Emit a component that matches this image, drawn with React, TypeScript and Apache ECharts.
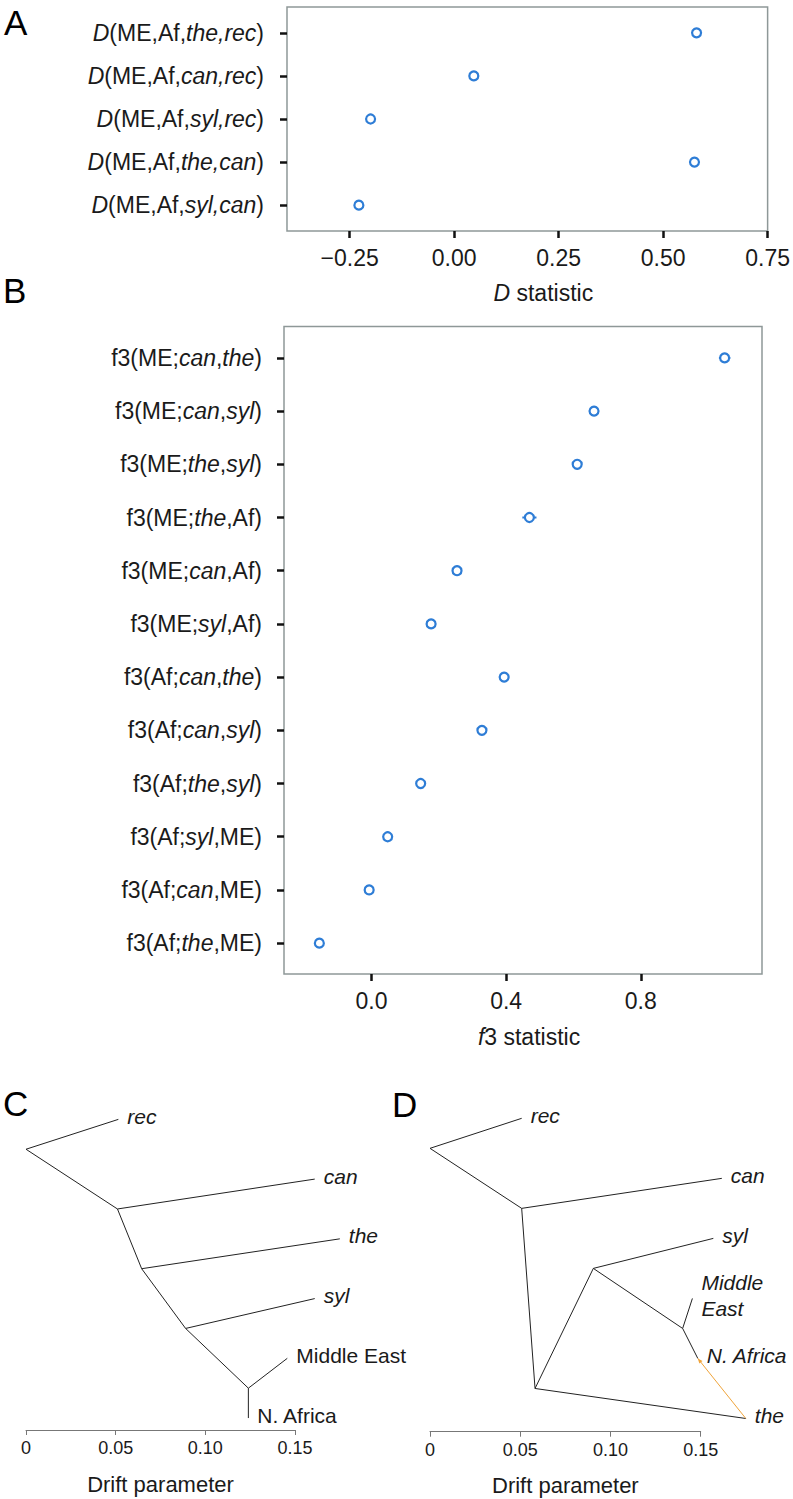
import React, { useEffect, useRef } from "react";
import * as echarts from "echarts";

// ---------- Panel A: D statistics ----------
const dPairs: string[][] = [
  ["the", "rec"],
  ["can", "rec"],
  ["syl", "rec"],
  ["the", "can"],
  ["syl", "can"],
];
const dValues = [0.58, 0.047, -0.2, 0.575, -0.228];
const dTicks = [-0.25, 0, 0.25, 0.5, 0.75];

// ---------- Panel B: f3 statistics ----------
const f3Targets = ["ME", "ME", "ME", "ME", "ME", "ME", "Af", "Af", "Af", "Af", "Af", "Af"];
const f3SourceA = ["can", "can", "the", "the", "can", "syl", "can", "can", "the", "syl", "can", "the"];
const f3SourceB = ["the", "syl", "syl", "Af", "Af", "Af", "the", "syl", "syl", "ME", "ME", "ME"];
const f3Values = [1.049, 0.661, 0.611, 0.469, 0.254, 0.177, 0.394, 0.328, 0.146, 0.048, -0.007, -0.155];
const f3Errors = [0.017, 0.008, 0.008, 0.021, 0.008, 0.008, 0.012, 0.008, 0.008, 0.008, 0.008, 0.008];
const f3Ticks = [0, 0.4, 0.8];

// ---------- Panel C: tree ----------
const nodeIdsC = ["root", "rec", "n1", "can", "n2", "the", "n3", "syl", "n4", "Middle East", "N. Africa"];
const nodeDriftC = [0, 0.0515, 0.051, 0.161, 0.0645, 0.175, 0.089, 0.161, 0.124, 0.1457, 0.124];
const nodePosC = [0.5, 0, 1.5, 1, 2.5, 2, 3.5, 3, 4.5, 4, 5];
const edgesC: string[][] = [
  ["root", "rec"], ["root", "n1"], ["n1", "can"], ["n1", "n2"], ["n2", "the"],
  ["n2", "n3"], ["n3", "syl"], ["n3", "n4"], ["n4", "Middle East"], ["n4", "N. Africa"],
];
const tipsC = ["rec", "can", "the", "syl", "Middle East", "N. Africa"];

// ---------- Panel D: tree with admixture ----------
const nodeIdsD = ["root", "rec", "n1", "can", "n2", "n3", "syl", "n4", "Middle East", "N. Africa", "the"];
const nodeDriftD = [0, 0.0508, 0.0508, 0.1617, 0.0582, 0.0905, 0.157, 0.14, 0.1454, 0.1484, 0.175];
const nodePosD = [0.5, 0, 1.5, 1, 4.5, 2.5, 2, 3.5, 3, 4, 5];
const edgesD: string[][] = [
  ["root", "rec"], ["root", "n1"], ["n1", "can"], ["n1", "n2"], ["n2", "n3"],
  ["n2", "the"], ["n3", "syl"], ["n3", "n4"], ["n4", "Middle East"], ["n4", "N. Africa"],
];
const admixD: string[][] = [["the", "N. Africa"]];
const tipsD = ["rec", "can", "syl", "Middle East", "N. Africa", "the"];

const FONT = '"Liberation Sans", Arial, Helvetica, sans-serif';
const TEXT = "#1a1a1a";
const FRAME = "#8e9898";
const BLUE = "#2e7dd6";
const ORANGE = "#f0a43a";
const TREE = "#222222";

const italicIfLower = (s: string) => (s === s.toLowerCase() ? `{i|${s}}` : s);

function edgeData(ids: string[], drift: number[], pos: number[], edges: string[][], kind: number) {
  return edges.map(([a, b]) => {
    const i = ids.indexOf(a);
    const j = ids.indexOf(b);
    return [drift[i], pos[i], drift[j], pos[j], kind];
  });
}

function tipData(ids: string[], drift: number[], pos: number[], tips: string[]) {
  return tips.map((t) => {
    const i = ids.indexOf(t);
    return { value: [drift[i], pos[i]], name: t };
  });
}

const edgeRender = (params: any, api: any) => {
  const a = api.coord([api.value(0), api.value(1)]);
  const b = api.coord([api.value(2), api.value(3)]);
  const admix = api.value(4) === 1;
  const children: any[] = [
    {
      type: "line",
      shape: { x1: a[0], y1: a[1], x2: b[0], y2: b[1] },
      style: { stroke: admix ? ORANGE : TREE, lineWidth: 1 },
    },
  ];
  if (admix) {
    const dx = b[0] - a[0];
    const dy = b[1] - a[1];
    const len = Math.sqrt(dx * dx + dy * dy) || 1;
    const ux = dx / len;
    const uy = dy / len;
    const nx = -uy;
    const ny = ux;
    children.push({
      type: "polygon",
      shape: {
        points: [
          [b[0], b[1]],
          [b[0] - ux * 5 + nx * 2, b[1] - uy * 5 + ny * 2],
          [b[0] - ux * 5 - nx * 2, b[1] - uy * 5 - ny * 2],
        ],
      },
      style: { fill: ORANGE },
    });
  }
  return { type: "group", children };
};

const richI = (size: number) => ({
  i: { fontStyle: "italic", fontSize: size, fontFamily: FONT, color: TEXT },
});

export default function App() {
  const ref = useRef<HTMLDivElement>(null);

  useEffect(() => {
    document.body.style.margin = "0";
    if (!ref.current) return;
    const chart = echarts.init(ref.current, undefined, { renderer: "svg" });

    const frameGrid = { show: true, borderColor: FRAME, borderWidth: 1.5, backgroundColor: "#fff", containLabel: false };

    const treeXAxis = (gridIndex: number) => ({
      type: "value",
      gridIndex,
      min: 0,
      max: 0.15,
      interval: 0.05,
      name: "Drift parameter",
      nameLocation: "middle",
      nameGap: 43,
      nameTextStyle: { fontFamily: FONT, fontSize: 22, color: TEXT },
      axisLine: { show: true, onZero: false, lineStyle: { color: "#777", width: 1 } },
      axisTick: { show: true, length: 5, lineStyle: { color: "#777", width: 1 } },
      splitLine: { show: false },
      axisLabel: {
        margin: 9,
        fontFamily: FONT,
        fontSize: 18,
        color: TEXT,
        formatter: (v: number) => (v === 0 ? "0" : v.toFixed(2)),
      },
    });

    const treeLabel = (italicAll: boolean) => ({
      show: true,
      position: "right",
      distance: 9,
      offset: [0, -3],
      fontFamily: FONT,
      fontSize: 21,
      color: TEXT,
      fontStyle: "normal",
      rich: { i: { fontStyle: "italic", fontSize: 21, fontFamily: FONT, color: TEXT, lineHeight: 26 } },
      formatter: (p: any) => {
        const n: string = p.name;
        if (n === n.toLowerCase() || italicAll) {
          if (italicAll && n === "Middle East") return "{i|Middle}\n{i|East}";
          return `{i|${n}}`;
        }
        return n;
      },
    });

    const markerStyle = { color: "#fff", borderColor: BLUE, borderWidth: 2.2, opacity: 1 };

    const option: any = {
      animation: false,
      backgroundColor: "#fff",
      grid: [
        { ...frameGrid, left: 287, right: 25, top: 7, height: 224 },
        { ...frameGrid, left: 284, right: 31, top: 326.5, height: 647.5 },
        { left: 26, width: 269, top: 1089.5, height: 340.5 },
        { left: 430, width: 270.7, top: 1088.3, height: 343.4 },
      ],
      xAxis: [
        {
          type: "value",
          gridIndex: 0,
          min: -0.4,
          max: 0.75,
          name: "{i|D} statistic",
          nameLocation: "middle",
          nameGap: 50,
          nameTextStyle: { fontFamily: FONT, fontSize: 23, color: TEXT, padding: [0, 0, 0, 32], rich: richI(23) },
          axisLine: { show: false, onZero: false },
          axisTick: { show: true, length: 7, customValues: dTicks, lineStyle: { color: "#111", width: 2.5 } },
          splitLine: { show: false },
          axisLabel: {
            customValues: dTicks,
            margin: 15,
            fontFamily: FONT,
            fontSize: 23,
            color: TEXT,
            formatter: (v: number) => (v < 0 ? "\u2212" : "") + Math.abs(v).toFixed(2),
          },
        },
        {
          type: "value",
          gridIndex: 1,
          min: -0.26,
          max: 1.16,
          name: "{i|f}3 statistic",
          nameLocation: "middle",
          nameGap: 51,
          nameTextStyle: { fontFamily: FONT, fontSize: 23, color: TEXT, padding: [0, 0, 0, 12], rich: richI(23) },
          axisLine: { show: false, onZero: false },
          axisTick: { show: true, length: 7, customValues: f3Ticks, lineStyle: { color: "#111", width: 2.5 } },
          splitLine: { show: false },
          axisLabel: {
            customValues: f3Ticks,
            margin: 15,
            fontFamily: FONT,
            fontSize: 23,
            color: TEXT,
            formatter: (v: number) => v.toFixed(1),
          },
        },
        treeXAxis(2),
        treeXAxis(3),
      ],
      yAxis: [
        {
          type: "value",
          gridIndex: 0,
          inverse: true,
          min: -0.6,
          max: 4.6,
          axisLine: { show: false, onZero: false },
          splitLine: { show: false },
          axisTick: { show: true, length: 7, customValues: dPairs.map((_, i) => i), lineStyle: { color: "#111", width: 2.5 } },
          axisLabel: {
            customValues: dPairs.map((_, i) => i),
            margin: 23,
            fontFamily: FONT,
            fontSize: 23,
            color: TEXT,
            rich: richI(23),
            formatter: (v: number) => {
              const p = dPairs[Math.round(v)];
              return p ? `{i|D}(ME,Af,{i|${p[0]},${p[1]}})` : "";
            },
          },
        },
        {
          type: "value",
          gridIndex: 1,
          inverse: true,
          min: -0.59,
          max: 11.58,
          axisLine: { show: false, onZero: false },
          splitLine: { show: false },
          axisTick: { show: true, length: 7, customValues: f3Values.map((_, i) => i), lineStyle: { color: "#111", width: 2.5 } },
          axisLabel: {
            customValues: f3Values.map((_, i) => i),
            margin: 22,
            fontFamily: FONT,
            fontSize: 23,
            color: TEXT,
            rich: richI(23),
            formatter: (v: number) => {
              const i = Math.round(v);
              if (i < 0 || i >= f3Targets.length) return "";
              return `f3(${f3Targets[i]};${italicIfLower(f3SourceA[i])},${italicIfLower(f3SourceB[i])})`;
            },
          },
        },
        { type: "value", gridIndex: 2, inverse: true, min: -0.5, max: 5.2, show: false },
        { type: "value", gridIndex: 3, inverse: true, min: -0.5, max: 5.22, show: false },
      ],
      series: [
        {
          type: "scatter",
          xAxisIndex: 0,
          yAxisIndex: 0,
          symbol: "circle",
          symbolSize: 9,
          itemStyle: markerStyle,
          data: dValues.map((v, i) => [v, i]),
        },
        {
          type: "custom",
          xAxisIndex: 1,
          yAxisIndex: 1,
          data: f3Values.map((v, i) => [v - f3Errors[i], i, v + f3Errors[i]]),
          encode: { x: [0, 2], y: 1 },
          renderItem: (params: any, api: any) => {
            const a = api.coord([api.value(0), api.value(1)]);
            const b = api.coord([api.value(2), api.value(1)]);
            return {
              type: "line",
              shape: { x1: a[0], y1: a[1], x2: b[0], y2: b[1] },
              style: { stroke: BLUE, lineWidth: 2 },
            };
          },
        },
        {
          type: "scatter",
          xAxisIndex: 1,
          yAxisIndex: 1,
          symbol: "circle",
          symbolSize: 9,
          itemStyle: markerStyle,
          data: f3Values.map((v, i) => [v, i]),
        },
        {
          type: "custom",
          xAxisIndex: 2,
          yAxisIndex: 2,
          renderItem: edgeRender,
          encode: { x: [0, 2], y: [1, 3] },
          data: edgeData(nodeIdsC, nodeDriftC, nodePosC, edgesC, 0),
        },
        {
          type: "scatter",
          xAxisIndex: 2,
          yAxisIndex: 2,
          clip: false,
          symbolSize: 0,
          itemStyle: { opacity: 1 },
          label: treeLabel(false),
          data: tipData(nodeIdsC, nodeDriftC, nodePosC, tipsC),
        },
        {
          type: "custom",
          xAxisIndex: 3,
          yAxisIndex: 3,
          renderItem: edgeRender,
          encode: { x: [0, 2], y: [1, 3] },
          data: [
            ...edgeData(nodeIdsD, nodeDriftD, nodePosD, edgesD, 0),
            ...edgeData(nodeIdsD, nodeDriftD, nodePosD, admixD, 1),
          ],
        },
        {
          type: "scatter",
          xAxisIndex: 3,
          yAxisIndex: 3,
          clip: false,
          symbolSize: 0,
          itemStyle: { opacity: 1 },
          label: treeLabel(true),
          data: tipData(nodeIdsD, nodeDriftD, nodePosD, tipsD),
        },
      ],
      graphic: [
        { type: "text", left: 4, top: 5, style: { text: "A", fontFamily: FONT, fontSize: 35, fill: "#000" } },
        { type: "text", left: 3, top: 273, style: { text: "B", fontFamily: FONT, fontSize: 35, fill: "#000" } },
        { type: "text", left: 3, top: 1086, style: { text: "C", fontFamily: FONT, fontSize: 35, fill: "#000" } },
        { type: "text", left: 392, top: 1087, style: { text: "D", fontFamily: FONT, fontSize: 35, fill: "#000" } },
      ],
    };

    chart.setOption(option);
    return () => chart.dispose();
  }, []);

  return <div ref={ref} style={{ width: 793, height: 1499 }} />;
}
